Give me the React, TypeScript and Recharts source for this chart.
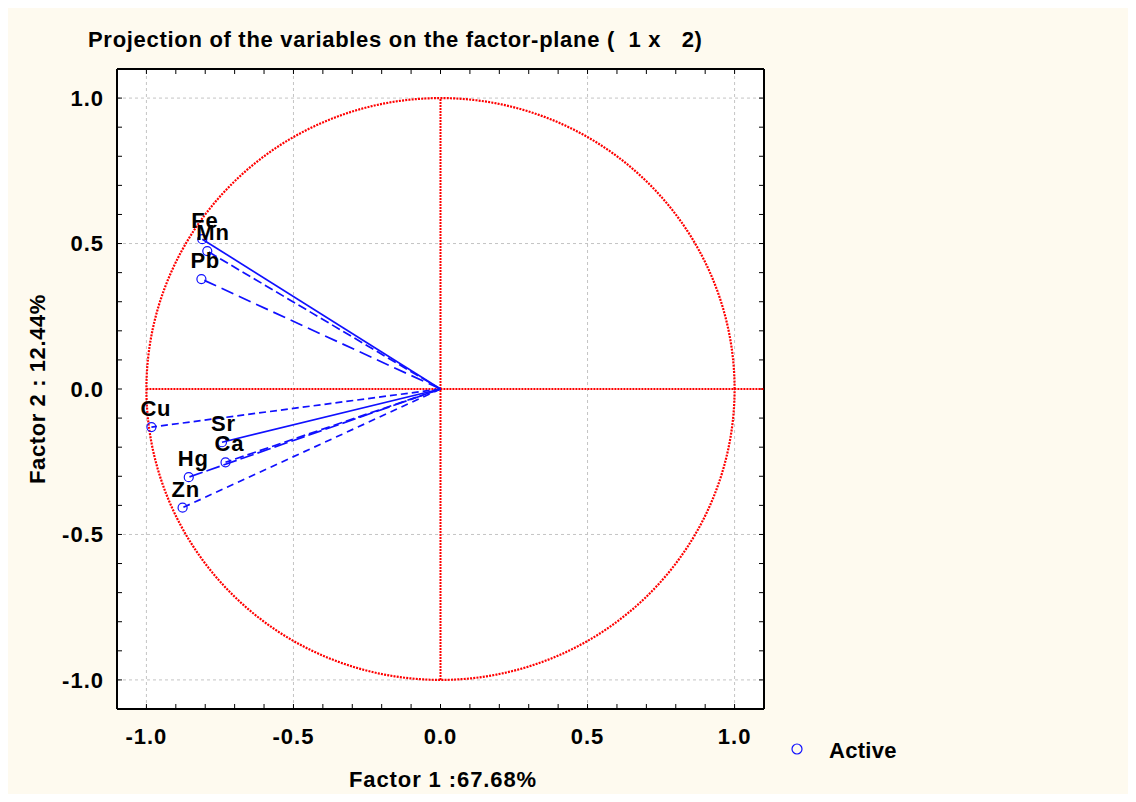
import React from 'react';
import { ScatterChart, Scatter, XAxis, YAxis, ReferenceLine, Legend, Label } from 'recharts';

const VARIABLES = ['Fe', 'Mn', 'Pb', 'Cu', 'Sr', 'Ca', 'Hg', 'Zn'];
const FACTOR1 = [-0.81, -0.793, -0.813, -0.983, -0.743, -0.731, -0.856, -0.877];
const FACTOR2 = [0.515, 0.474, 0.378, -0.131, -0.183, -0.252, -0.303, -0.408];
const VECTOR_DASH = ['', '9 4', '13 6', '7 4', '', '9 4', '14 4', '7 5'];
const AXIS_TICKS = [-1.0, -0.9, -0.8, -0.7, -0.6, -0.5, -0.4, -0.3, -0.2, -0.1, 0.0, 0.1, 0.2, 0.3, 0.4, 0.5, 0.6, 0.7, 0.8, 0.9, 1.0];
const GRID_VALUES = [-1.0, -0.5, 0.5, 1.0];
const DOMAIN: [number, number] = [-1.1, 1.1];
const TITLE = 'Projection of the variables on the factor-plane (  1 x   2)';
const X_TITLE = 'Factor 1 :67.68%';
const Y_TITLE = 'Factor 2 : 12.44%';
const SERIES_NAME = 'Active';

const HORIZONTAL_AXIS = [{ x: -1.0, y: 0 }, { x: 1.1, y: 0 }];
const VERTICAL_AXIS = [{ x: 0, y: -1.0 }, { x: 0, y: 1.0 }];
const UNIT_CIRCLE = Array.from({ length: 361 }, (_, i) => ({
  x: Math.cos((i * Math.PI) / 180),
  y: Math.sin((i * Math.PI) / 180),
}));

const POINTS = VARIABLES.map((name, i) => ({ name, x: FACTOR1[i], y: FACTOR2[i] }));

const FONT = '"Liberation Sans", Arial, Helvetica, sans-serif';
const FS = 22;
const BLUE = '#1010ff';
const RED = '#ff0000';
const BG = '#fefaef';

const isMajor = (v: number) => Math.abs(v * 2 - Math.round(v * 2)) < 1e-6;
const fmt = (v: number) => (isMajor(v) ? v.toFixed(1) : '');
const noShape = () => <g />;

const tickStyle = { fontSize: FS, fontWeight: 'bold', fill: '#000', fontFamily: FONT, letterSpacing: 1 };
const frame = { stroke: '#000', strokeWidth: 2 };

const PointShape = (props: any) => {
  const { cx, cy, payload } = props;
  return (
    <g>
      <circle cx={cx} cy={cy} r={4.5} fill="none" stroke={BLUE} strokeWidth={1.2} />
      <text x={cx - 11} y={cy - 11} fontSize={FS} fontWeight="bold" fontFamily={FONT} fill="#000" letterSpacing={0.8}>
        {payload.name}
      </text>
    </g>
  );
};

const LegendContent = () => (
  <svg width={200} height={40} style={{ overflow: 'visible' }}>
    <circle cx={9} cy={15} r={5} fill="none" stroke={BLUE} strokeWidth={1.2} />
    <text x={41} y={24} fontSize={FS} fontWeight="bold" fontFamily={FONT} fill="#000" letterSpacing={0.3}>
      {SERIES_NAME}
    </text>
  </svg>
);

export default function App() {
  return (
    <div style={{ width: 1120, height: 786, background: BG, fontFamily: FONT }}>
      <ScatterChart width={1120} height={786} margin={{ top: 60, right: 363, bottom: 35, left: 39 }}>
        <rect x={109} y={60} width={648} height={641} fill="#fff" />
        <XAxis
          xAxisId={0}
          dataKey="x"
          type="number"
          domain={DOMAIN}
          allowDataOverflow
          ticks={AXIS_TICKS}
          interval={0}
          tickFormatter={fmt}
          tickSize={-5}
          tickMargin={24}
          height={50}
          axisLine={frame}
          tickLine={{ stroke: '#000', strokeWidth: 1 }}
          tick={tickStyle}
        >
          <Label
            content={() => (
              <text
                x={435}
                y={779}
                textAnchor="middle"
                fontSize={FS}
                fontWeight="bold"
                fontFamily={FONT}
                fill="#000"
                letterSpacing={0.9}
                style={{ whiteSpace: 'pre' }}
              >
                {X_TITLE}
              </text>
            )}
          />
        </XAxis>
        <XAxis
          xAxisId="top"
          orientation="top"
          dataKey="x"
          type="number"
          domain={DOMAIN}
          allowDataOverflow
          ticks={AXIS_TICKS}
          interval={0}
          tickFormatter={() => ''}
          tickSize={-5}
          height={1}
          axisLine={frame}
          tickLine={{ stroke: '#000', strokeWidth: 1 }}
        />
        <YAxis
          yAxisId={0}
          dataKey="y"
          type="number"
          domain={DOMAIN}
          allowDataOverflow
          ticks={AXIS_TICKS}
          interval={0}
          tickFormatter={fmt}
          tickSize={-5}
          tickMargin={18}
          width={70}
          axisLine={frame}
          tickLine={{ stroke: '#000', strokeWidth: 1 }}
          tick={tickStyle}
        >
          <Label
            content={() => (
              <g>
                <text
                  transform="translate(37, 381) rotate(-90)"
                  textAnchor="middle"
                  fontSize={FS}
                  fontWeight="bold"
                  fontFamily={FONT}
                  fill="#000"
                  letterSpacing={0.6}
                >
                  {Y_TITLE}
                </text>
                <text
                  x={80}
                  y={39}
                  fontSize={FS}
                  fontWeight="bold"
                  fontFamily={FONT}
                  fill="#000"
                  letterSpacing={0.7}
                  style={{ whiteSpace: 'pre' }}
                >
                  {TITLE}
                </text>
              </g>
            )}
          />
        </YAxis>
        <YAxis
          yAxisId="right"
          orientation="right"
          dataKey="y"
          type="number"
          domain={DOMAIN}
          allowDataOverflow
          ticks={AXIS_TICKS}
          interval={0}
          tickFormatter={() => ''}
          tickSize={-5}
          width={1}
          axisLine={frame}
          tickLine={{ stroke: '#000', strokeWidth: 1 }}
        />
        {GRID_VALUES.map((v) => (
          <ReferenceLine key={'gx' + v} x={v} stroke="#c4c4c4" strokeDasharray="3 3" />
        ))}
        {GRID_VALUES.map((v) => (
          <ReferenceLine key={'gy' + v} y={v} stroke="#c4c4c4" strokeDasharray="3 3" />
        ))}
        <Legend
          content={LegendContent}
          wrapperStyle={{ position: 'absolute', left: 780, top: 726, width: 0, height: 0, overflow: 'visible' }}
        />
        <Scatter
          data={HORIZONTAL_AXIS}
          line={{ stroke: RED, strokeWidth: 2, strokeDasharray: '2 1' }}
          shape={noShape}
          legendType="none"
          isAnimationActive={false}
        />
        <Scatter
          data={VERTICAL_AXIS}
          line={{ stroke: RED, strokeWidth: 2, strokeDasharray: '2 1' }}
          shape={noShape}
          legendType="none"
          isAnimationActive={false}
        />
        <Scatter
          data={UNIT_CIRCLE}
          line={{ stroke: RED, strokeWidth: 2.2, strokeDasharray: '2 1.2' }}
          shape={noShape}
          legendType="none"
          isAnimationActive={false}
        />
        {POINTS.map((p, i) => (
          <Scatter
            key={'v' + p.name}
            data={[{ x: 0, y: 0 }, { x: p.x, y: p.y }]}
            line={{ stroke: BLUE, strokeWidth: 1.7, strokeDasharray: VECTOR_DASH[i] || undefined }}
            shape={noShape}
            legendType="none"
            isAnimationActive={false}
          />
        ))}
        <Scatter
          name={SERIES_NAME}
          data={POINTS}
          shape={PointShape}
          fill={BLUE}
          isAnimationActive={false}
        />
      </ScatterChart>
    </div>
  );
}
